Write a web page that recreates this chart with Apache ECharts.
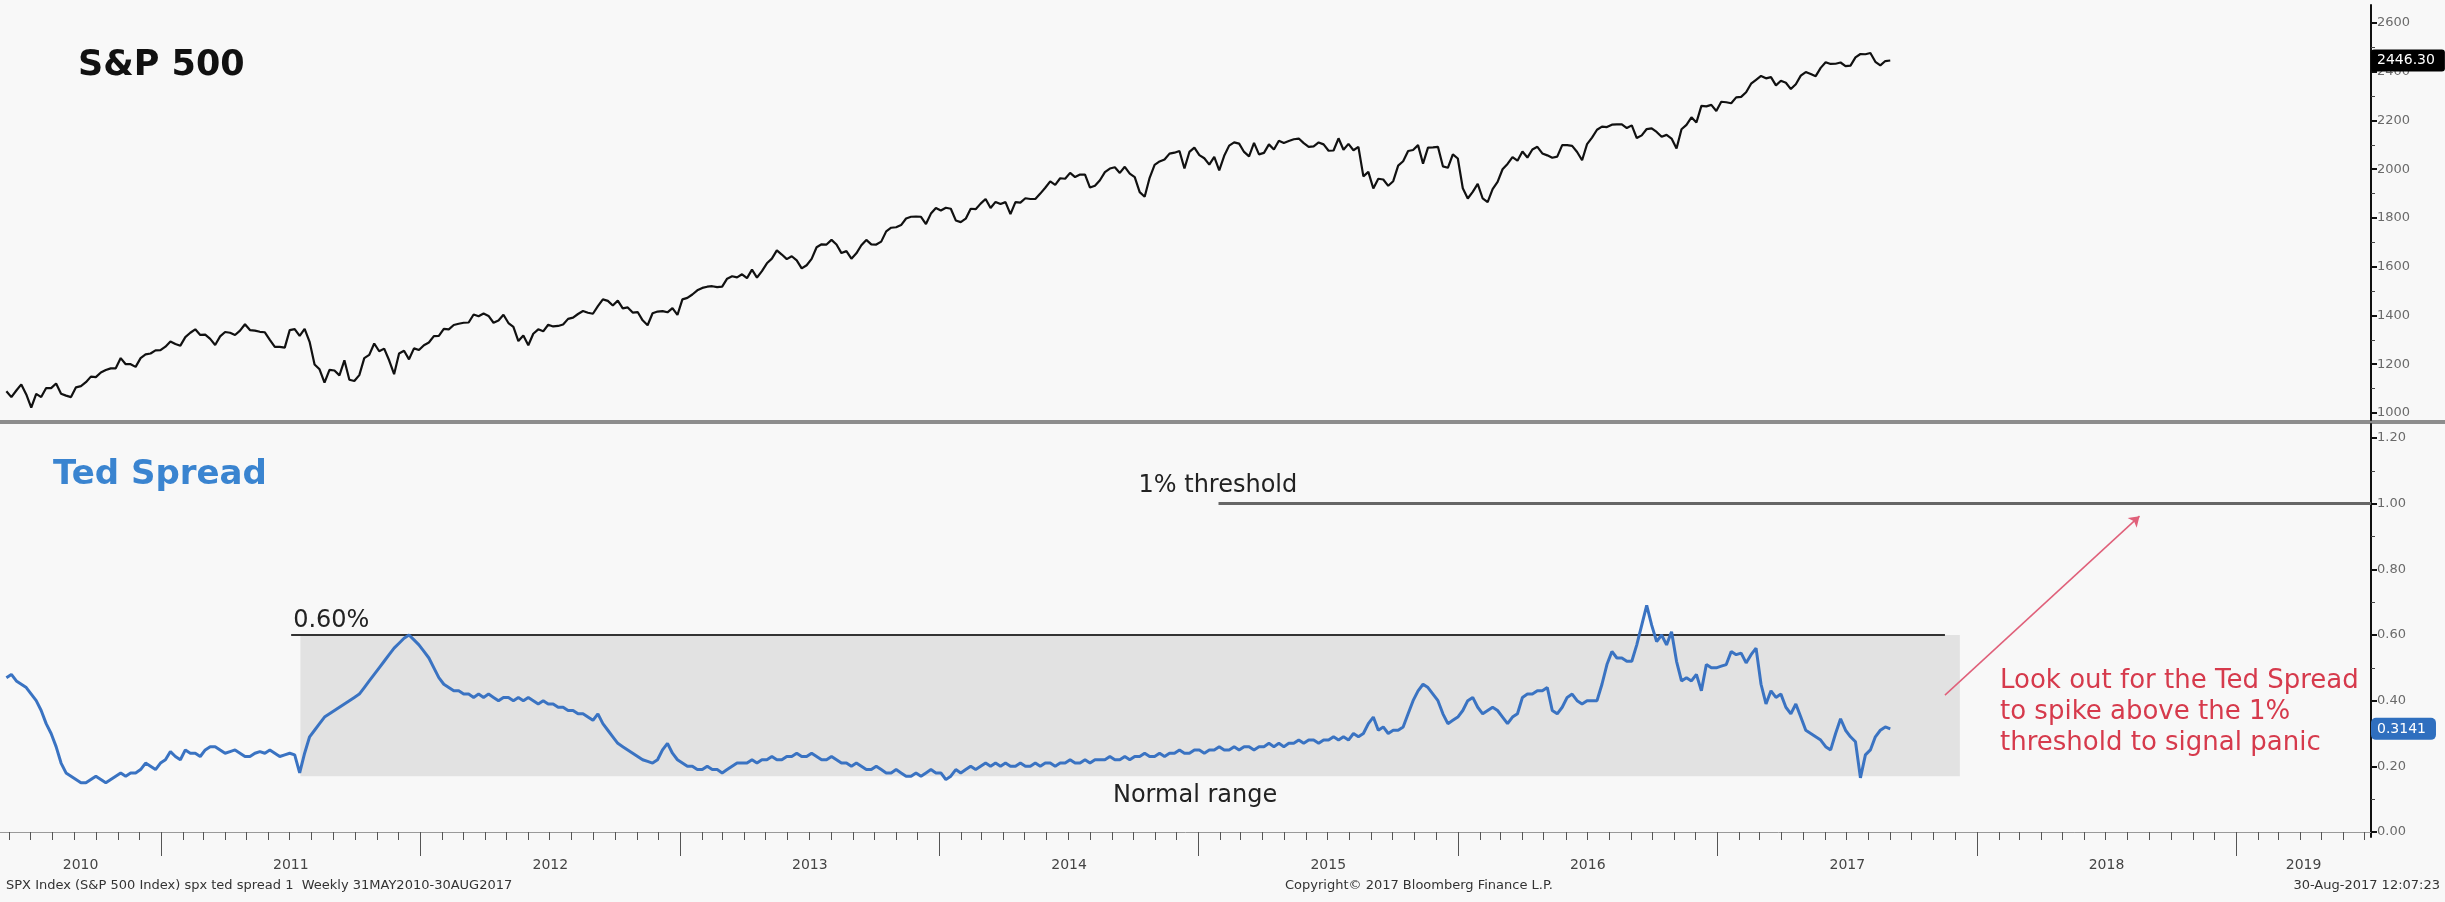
<!DOCTYPE html>
<html>
<head>
<meta charset="utf-8">
<script src="https://cdn.jsdelivr.net/npm/echarts@6/dist/echarts.min.js"></script>
<style>
  html, body { margin: 0; padding: 0; background: #f8f8f8; }
  #chart { width: 2445px; height: 902px; }
</style>
</head>
<body>
<div id="chart"></div>
<script>
// Weekly closes, first week ending 28 May 2010, one row per calendar year
const firstWeek = Date.UTC(2010, 4, 28);

const spxClose = [
  1089,1065,1092,1117,1076,1022,1078,1065,1102,1102,1121,1079,1071,1065,1105,1110,1126,1149,1147,1166,1176,1183,1183,1225,1200,1200,1189,1225,1240,1244,1257,1258,
  1272,1293,1283,1276,1311,1329,1343,1320,1321,1304,1279,1314,1332,1329,1320,1338,1364,1340,1338,1333,1331,1300,1271,1271,1268,1340,1344,1316,1345,1292,1199,1179,1124,1177,1174,1154,1216,1136,1131,1155,1225,1238,1285,1253,1264,1216,1159,1244,1255,1220,1265,1258,
  1278,1289,1315,1316,1345,1343,1361,1366,1370,1371,1404,1397,1408,1398,1370,1379,1403,1369,1353,1295,1318,1278,1325,1343,1335,1362,1355,1357,1363,1386,1391,1406,1418,1411,1407,1438,1466,1460,1441,1461,1429,1433,1412,1414,1380,1360,1409,1416,1418,1413,1430,1402,
  1466,1472,1486,1503,1513,1518,1520,1516,1518,1551,1561,1556,1569,1553,1588,1555,1582,1614,1633,1667,1650,1631,1643,1626,1593,1606,1632,1680,1692,1691,1710,1691,1656,1664,1633,1655,1688,1710,1692,1691,1703,1745,1760,1762,1771,1798,1805,1806,1805,1775,1818,1841,
  1831,1842,1838,1790,1783,1797,1838,1836,1859,1878,1841,1866,1857,1865,1816,1865,1863,1881,1878,1878,1900,1924,1950,1936,1963,1961,1985,1968,1978,1978,1925,1932,1955,1988,2003,2008,1985,2010,1982,1968,1906,1887,1965,2018,2032,2040,2064,2068,2075,2003,2071,2089,
  2058,2045,2019,2051,1995,2055,2097,2110,2105,2071,2053,2108,2061,2067,2102,2081,2117,2108,2116,2123,2126,2107,2092,2094,2110,2102,2076,2077,2127,2080,2104,2078,2092,1971,1989,1921,1961,1958,1932,1951,2015,2033,2075,2079,2099,2023,2089,2090,2092,2012,2006,2061,
  2044,1922,1880,1907,1940,1880,1865,1918,1948,2000,2022,2050,2035,2073,2048,2081,2092,2065,2057,2047,2052,2099,2099,2096,2071,2037,2103,2130,2162,2175,2173,2183,2184,2184,2169,2180,2128,2139,2165,2168,2153,2133,2141,2126,2085,2164,2182,2213,2192,2260,2258,2264,2239,
  2277,2275,2271,2295,2297,2316,2351,2367,2383,2373,2378,2344,2363,2355,2329,2349,2384,2399,2391,2382,2416,2439,2432,2433,2438,2423,2425,2459,2473,2472,2477,2441,2426,2444,2446.30
];

const tedSpread = [
  0.47,0.48,0.46,0.45,0.44,0.42,0.40,0.37,0.33,0.30,0.26,0.21,0.18,0.17,0.16,0.15,0.15,0.16,0.17,0.16,0.15,0.16,0.17,0.18,0.17,0.18,0.18,0.19,0.21,0.20,0.19,0.21,
  0.22,0.245,0.23,0.22,0.25,0.24,0.24,0.23,0.25,0.26,0.26,0.25,0.24,0.245,0.25,0.24,0.23,0.23,0.24,0.245,0.24,0.25,0.24,0.23,0.235,0.24,0.235,0.18,0.24,0.29,0.31,0.33,0.35,0.36,0.37,0.38,0.39,0.40,0.41,0.42,0.44,0.46,0.48,0.50,0.52,0.54,0.56,0.575,0.59,0.60,0.585,0.57,
  0.55,0.53,0.50,0.47,0.45,0.44,0.43,0.43,0.42,0.42,0.41,0.42,0.41,0.42,0.41,0.40,0.41,0.41,0.40,0.41,0.40,0.41,0.40,0.39,0.40,0.39,0.39,0.38,0.38,0.37,0.37,0.36,0.36,0.35,0.34,0.36,0.33,0.31,0.29,0.27,0.26,0.25,0.24,0.23,0.22,0.215,0.21,0.22,0.25,0.27,0.24,0.22,
  0.21,0.20,0.20,0.19,0.19,0.20,0.19,0.19,0.18,0.19,0.20,0.21,0.21,0.21,0.22,0.21,0.22,0.22,0.23,0.22,0.22,0.23,0.23,0.24,0.23,0.23,0.24,0.23,0.22,0.22,0.23,0.22,0.21,0.21,0.20,0.21,0.20,0.19,0.19,0.20,0.19,0.18,0.18,0.19,0.18,0.17,0.17,0.18,0.17,0.18,0.19,0.18,
  0.18,0.16,0.17,0.19,0.18,0.19,0.20,0.19,0.20,0.21,0.20,0.21,0.20,0.21,0.20,0.20,0.21,0.20,0.20,0.21,0.20,0.21,0.21,0.20,0.21,0.21,0.22,0.21,0.21,0.22,0.21,0.22,0.22,0.22,0.23,0.22,0.22,0.23,0.22,0.23,0.23,0.24,0.23,0.23,0.24,0.23,0.24,0.24,0.25,0.24,0.24,0.25,
  0.25,0.24,0.25,0.25,0.26,0.25,0.25,0.26,0.25,0.26,0.26,0.25,0.26,0.26,0.27,0.26,0.27,0.26,0.27,0.27,0.28,0.27,0.28,0.28,0.27,0.28,0.28,0.29,0.28,0.29,0.28,0.30,0.29,0.30,0.33,0.35,0.31,0.32,0.30,0.31,0.31,0.32,0.36,0.40,0.43,0.45,0.44,0.42,0.40,0.36,0.33,0.34,
  0.35,0.37,0.40,0.41,0.38,0.36,0.37,0.38,0.37,0.35,0.33,0.35,0.36,0.41,0.42,0.42,0.43,0.43,0.44,0.37,0.36,0.38,0.41,0.42,0.40,0.39,0.40,0.40,0.40,0.45,0.51,0.55,0.53,0.53,0.52,0.52,0.57,0.63,0.69,0.63,0.58,0.60,0.57,0.61,0.52,0.46,0.47,0.46,0.48,0.43,0.51,0.50,0.50,
  0.505,0.51,0.55,0.54,0.545,0.515,0.54,0.56,0.45,0.39,0.43,0.41,0.42,0.38,0.36,0.39,0.35,0.31,0.30,0.29,0.28,0.26,0.25,0.30,0.345,0.31,0.29,0.275,0.165,0.235,0.25,0.29,0.31,0.32,0.3141
];

const spxTicks = [1000, 1200, 1400, 1600, 1800, 2000, 2200, 2400, 2600];
const spxMinorTicks = [1100, 1300, 1500, 1700, 1900, 2100, 2300, 2500];
const tedTicks = [0, 0.2, 0.4, 0.6, 0.8, 1.0, 1.2];
const tedMinorTicks = [0.1, 0.3, 0.5, 0.7, 0.9, 1.1];
const yearLabels = ['2010', '2011', '2012', '2013', '2014', '2015', '2016', '2017', '2018', '2019'];

// Annotation levels on the spread panel
const panicThreshold = 1.0;
const normalHigh = 0.60;
const normalLow = 0.17;
const arrowFrom = 0.417;
const arrowTo = 0.962;

const DAY = 864e5;
const weekDate = i => firstWeek + i * 7 * DAY;
const xMin = Date.UTC(2010, 4, 19);
const xMax = Date.UTC(2019, 6, 10);

const spxData = spxClose.map((v, i) => [weekDate(i), v]);
const tedData = tedSpread.map((v, i) => [weekDate(i), v]);

const yearStarts = [];
for (let y = 2011; y <= 2019; y++) yearStarts.push(Date.UTC(y, 0, 1));
const monthTicks = [];
for (let y = 2010; y <= 2019; y++) {
  for (let m = 0; m < 12; m++) {
    const t = Date.UTC(y, m, 1);
    if (t >= xMin && t <= xMax) monthTicks.push(t);
  }
}
// year labels sit in the middle of the visible part of each year
const yearLabelPos = yearLabels.map(label => {
  const y = Number(label);
  const a = Math.max(Date.UTC(y, 0, 1), xMin);
  const b = Math.min(Date.UTC(y + 1, 0, 1), xMax);
  return (a + b) / 2;
});
const yearOf = v => String(new Date(v).getUTCFullYear());

const FONT = 'DejaVu Sans';
const xMinNormal = Date.UTC(2011, 6, 16), xMaxNormal = Date.UTC(2017, 11, 8);
const lineNormalFrom = Date.UTC(2011, 6, 3), lineNormalTo = Date.UTC(2017, 10, 17);
const thresholdFrom = Date.UTC(2015, 0, 29);
const arrowStartDate = Date.UTC(2017, 10, 17), arrowEndDate = Date.UTC(2018, 7, 18);

const chart = echarts.init(document.getElementById('chart'), null, { renderer: 'canvas' });

const axisRight = (gridIndex, min, max, ticks, fmt, minor) => [{
  type: 'value', gridIndex, position: 'right', min, max,
  axisLine: { show: true, lineStyle: { color: '#111', width: 2 } },
  axisTick: { show: true, customValues: ticks, length: 6, lineStyle: { color: '#111', width: 2 } },
  axisLabel: { show: true, customValues: ticks, formatter: fmt, color: '#6a6a6a', fontSize: 13, fontFamily: FONT, margin: 6 },
  splitLine: { show: false }
}, {
  type: 'value', gridIndex, position: 'right', min, max,
  axisLine: { show: false },
  axisTick: { show: true, customValues: minor, length: 4, lineStyle: { color: '#444', width: 1 } },
  axisLabel: { show: false },
  splitLine: { show: false }
}];

const spxAxes = axisRight(0, 971, 2674, spxTicks, v => String(v), spxMinorTicks);
const tedAxes = axisRight(1, -0.0152, 1.2426, tedTicks, v => v.toFixed(2), tedMinorTicks);

spxAxes[0].axisPointer = {
  show: true, status: 'show', value: spxClose[spxClose.length - 1], triggerTooltip: false,
  lineStyle: { opacity: 0 },
  label: { show: true, formatter: p => Number(p.value).toFixed(2), backgroundColor: '#000', color: '#fff',
           fontFamily: FONT, fontSize: 14, padding: [4, 10, 4, 6], margin: 0 }
};
tedAxes[0].axisPointer = {
  show: true, status: 'show', value: tedSpread[tedSpread.length - 1], triggerTooltip: false,
  lineStyle: { opacity: 0 },
  label: { show: true, formatter: p => Number(p.value).toFixed(4), backgroundColor: '#2f6fbf', color: '#fff',
           borderRadius: 5, fontFamily: FONT, fontSize: 14, padding: [4, 10, 4, 6], margin: 0 }
};

const xTimeAxis = (gridIndex, extra) => Object.assign({
  type: 'value', gridIndex, min: xMin, max: xMax, scale: true,
  splitLine: { show: false }
}, extra);

const option = {
  animation: false,
  backgroundColor: '#f8f8f8',
  textStyle: { fontFamily: FONT },
  grid: [
    { left: 0, right: 74, top: 5, height: 415 },
    { left: 0, right: 74, top: 424, height: 413 }
  ],
  xAxis: [
    xTimeAxis(0, { show: false }),
    xTimeAxis(1, {
      axisLine: { show: true, lineStyle: { color: '#9a9a9a', width: 1 } },
      axisTick: { show: true, customValues: monthTicks, length: 8, lineStyle: { color: '#555' } },
      axisLabel: { show: false }
    }),
    xTimeAxis(1, {
      position: 'bottom', offset: 14,
      axisLine: { show: false },
      axisTick: { show: true, customValues: yearStarts, length: 24, lineStyle: { color: '#555', width: 1 } },
      axisLabel: { show: true, customValues: yearLabelPos, formatter: v => yearLabels[yearLabels.indexOf(yearOf(v))],
                   color: '#444', fontSize: 14, fontFamily: FONT, margin: 7 }
    })
  ],
  yAxis: [spxAxes[0], spxAxes[1], tedAxes[0], tedAxes[1]],
  series: [
    {
      name: 'S&P 500', type: 'line', xAxisIndex: 0, yAxisIndex: 0,
      data: spxData, showSymbol: false, symbol: 'none',
      lineStyle: { color: '#111', width: 2.2 }
    },
    {
      name: 'Ted Spread', type: 'line', xAxisIndex: 1, yAxisIndex: 2,
      data: tedData, showSymbol: false, symbol: 'none', z: 5,
      lineStyle: { color: '#3a73c2', width: 3 },
      markArea: {
        silent: true,
        itemStyle: { color: '#e2e2e2' },
        label: { show: true, position: 'bottom', distance: 8, offset: [65, 0], formatter: 'Normal range',
                 color: '#222', fontSize: 24, fontFamily: FONT },
        data: [[{ coord: [xMinNormal, normalHigh] }, { coord: [xMaxNormal, normalLow] }]]
      },
      markLine: {
        silent: true, symbol: 'none',
        data: [
          [
            { coord: [thresholdFrom, panicThreshold],
              lineStyle: { color: '#666', width: 3, type: 'solid' },
              label: { show: true, position: 'insideStartTop', formatter: Math.round(panicThreshold) + '% threshold',
                       offset: [-86, 0], distance: 6, color: '#222', fontSize: 24, fontFamily: FONT } },
            { coord: [xMax, panicThreshold] }
          ],
          [
            { coord: [lineNormalFrom, normalHigh],
              lineStyle: { color: '#333', width: 2, type: 'solid' },
              label: { show: true, position: 'insideStartTop', formatter: normalHigh.toFixed(2) + '%',
                       distance: 2, color: '#222', fontSize: 24, fontFamily: FONT } },
            { coord: [lineNormalTo, normalHigh] }
          ],
          [
            { coord: [arrowStartDate, arrowFrom], symbol: 'none',
              lineStyle: { color: '#e0607a', width: 1.5, type: 'solid' },
              label: { show: false } },
            { coord: [arrowEndDate, arrowTo], symbol: 'arrow', symbolSize: 10 }
          ]
        ]
      }
    }
  ],
  graphic: [
    { type: 'rect', silent: true, shape: { x: 0, y: 420, width: 2445, height: 4 }, style: { fill: '#8d8d8d' } },
    { type: 'text', silent: true, x: 78, y: 66,
      style: { text: 'S&P 500', font: 'bold 35px "DejaVu Sans"', fill: '#111', textVerticalAlign: 'middle' } },
    { type: 'text', silent: true, x: 53, y: 475,
      style: { text: 'Ted Spread', font: 'bold 34px "DejaVu Sans"', fill: '#3a84d0', textVerticalAlign: 'middle' } },
    { type: 'text', silent: true, x: 2000, y: 666,
      style: { text: 'Look out for the Ted Spread\nto spike above the 1%\nthreshold to signal panic',
               font: '26px "DejaVu Sans"', fill: '#d63a4c', lineHeight: 31, textVerticalAlign: 'top' } },
    { type: 'text', silent: true, x: 6, y: 886,
      style: { text: 'SPX Index (S&P 500 Index) spx ted spread 1  Weekly 31MAY2010-30AUG2017',
               font: '13px "DejaVu Sans"', fill: '#333', textVerticalAlign: 'middle' } },
    { type: 'text', silent: true, x: 1285, y: 886,
      style: { text: 'Copyright\u00A9 2017 Bloomberg Finance L.P.',
               font: '13px "DejaVu Sans"', fill: '#333', textVerticalAlign: 'middle' } },
    { type: 'text', silent: true, x: 2440, y: 886,
      style: { text: '30-Aug-2017 12:07:23',
               font: '13px "DejaVu Sans"', fill: '#333', textAlign: 'right', textVerticalAlign: 'middle' } }
  ]
};

chart.setOption(option);
</script>
</body>
</html>
